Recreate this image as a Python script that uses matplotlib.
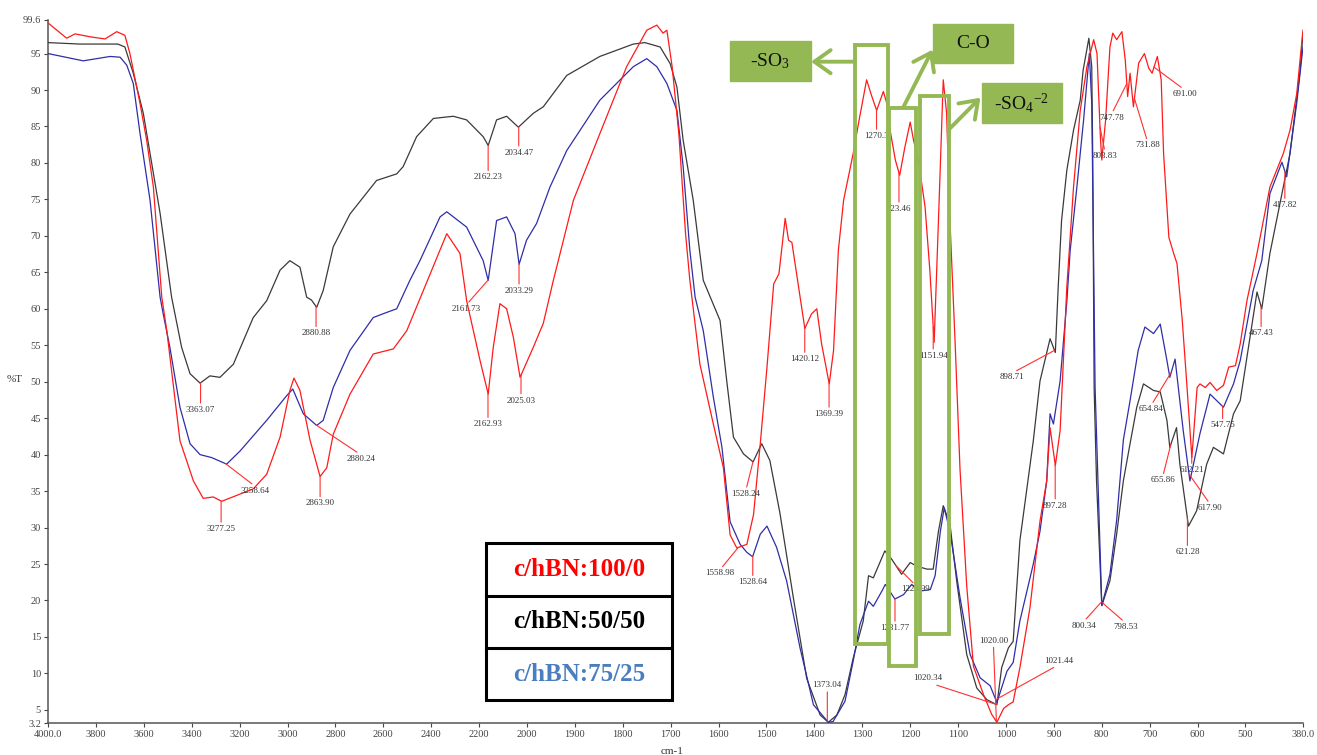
import numpy as np
import matplotlib
matplotlib.use("Agg")
import matplotlib.pyplot as plt
from matplotlib.patches import Rectangle

plt.rcParams["font.family"] = ["Liberation Serif", "DejaVu Serif"]
plt.rcParams["mathtext.fontset"] = "custom"
plt.rcParams["mathtext.rm"] = "Liberation Serif"
plt.rcParams["mathtext.it"] = "Liberation Serif:italic"
plt.rcParams["mathtext.bf"] = "Liberation Serif:bold"

# ---- spectra (wavenumber cm-1, %T) ----
red_wn = [4000, 3922, 3887, 3825, 3762, 3713, 3679, 3658, 3616, 3588, 3560, 3525, 3504, 3449,
          3393, 3352, 3310, 3275, 3198, 3143, 3087, 3031, 2990, 2973, 2948, 2906, 2864, 2836,
          2809, 2739, 2642, 2558, 2502, 2433, 2335, 2280, 2252, 2196, 2162, 2141, 2113, 2085,
          2057, 2029, 1987, 1966, 1945, 1903, 1848, 1792, 1750, 1729, 1716, 1708, 1697, 1683,
          1669, 1660, 1639, 1611, 1590, 1576, 1562, 1541, 1527, 1513, 1499, 1485, 1474, 1461,
          1454, 1447, 1434, 1420, 1406, 1395, 1385, 1369, 1360, 1350, 1339, 1319, 1308, 1291,
          1280, 1270, 1256, 1249, 1242, 1231, 1222, 1211, 1200, 1193, 1183, 1169, 1159, 1150,
          1141, 1131, 1124, 1117, 1106, 1096, 1082, 1068, 1047, 1030, 1019, 1005, 995, 985,
          971, 950, 929, 915, 908, 897, 887, 873, 859, 845, 831, 817, 810, 803, 800, 792, 783,
          777, 769, 758, 751, 746, 741, 734, 723, 711, 702, 695, 684, 676, 671, 660, 650, 643,
          632, 622, 612, 601, 595, 584, 574, 560, 546, 535, 521, 511, 497, 476, 449, 421, 407,
          393, 380]
red_t = [99.2, 97.1, 97.7, 97.3, 97.0, 98.0, 97.5, 95.0, 88.2, 83.1, 76.7, 61.6, 57.0, 41.9,
         36.4, 34.0, 34.2, 33.6, 34.6, 35.3, 37.3, 42.4, 48.8, 50.5, 48.8, 42.0, 37.0, 38.2,
         42.8, 48.3, 53.8, 54.5, 57.0, 62.5, 70.3, 67.6, 61.1, 52.9, 48.3, 54.7, 60.7, 60.0,
         56.1, 50.6, 54.7, 58.0, 63.9, 74.9, 84.0, 93.2, 98.2, 98.9, 97.8, 98.2, 93.2, 84.0,
         70.3, 63.9, 52.4, 44.2, 38.2, 29.0, 27.2, 27.7, 31.8, 41.5, 52.0, 63.4, 64.8, 72.4,
         69.4, 69.1, 63.4, 57.3, 59.3, 60.0, 55.2, 49.7, 54.3, 68.0, 74.9, 81.3, 85.4, 91.4,
         89.1, 87.2, 89.8, 88.2, 84.5, 80.4, 78.3, 82.2, 85.6, 83.1, 80.4, 74.0, 65.3, 55.4,
         72.1, 91.4, 86.8, 72.1, 55.0, 38.0, 22.0, 11.0, 7.1, 4.4, 3.3, 5.2, 5.7, 6.1,
         10.8, 19.0, 30.9, 36.4, 43.7, 38.5, 43.3, 63.0, 76.7, 87.2, 93.2, 96.9, 95.0, 83.6,
         80.4, 85.9, 95.9, 97.8, 96.9, 98.0, 94.1, 89.1, 92.3, 87.7, 93.7, 95.0, 93.0, 92.3,
         94.6, 91.4, 81.3, 69.8, 67.6, 66.2, 58.4, 49.2, 39.6, 49.2, 49.7, 49.2, 49.9, 48.8,
         49.5, 52.0, 52.2, 55.2, 61.1, 67.6, 76.7, 81.3, 84.5, 89.5, 98.2]

black_wn = [4000, 3866, 3708, 3679, 3644, 3602, 3532, 3484, 3442, 3407, 3365, 3324, 3282, 3226,
            3143, 3087, 3031, 2990, 2948, 2920, 2900, 2878, 2851, 2809, 2739, 2628, 2544, 2517,
            2461, 2391, 2308, 2252, 2183, 2162, 2127, 2085, 2036, 1987, 1966, 1917, 1848, 1778,
            1754, 1722, 1701, 1687, 1674, 1653, 1632, 1597, 1583, 1569, 1548, 1528, 1510, 1493,
            1472, 1444, 1416, 1388, 1371, 1353, 1336, 1319, 1298, 1287, 1277, 1253, 1239, 1218,
            1200, 1186, 1165, 1152, 1141, 1131, 1117, 1103, 1082, 1061, 1040, 1019, 1009, 995,
            985, 971, 943, 929, 908, 897, 891, 884, 873, 859, 845, 839, 827, 821, 819, 816, 811,
            800, 783, 769, 755, 741, 727, 713, 692, 678, 664, 658, 644, 637, 619, 602, 581, 567,
            546, 525, 511, 497, 476, 466, 449, 421, 407, 386, 380]
black_t = [96.5, 96.3, 96.3, 95.9, 92.3, 86.8, 73.1, 61.6, 54.7, 51.1, 49.8, 50.8, 50.6, 52.4,
           58.8, 61.1, 65.3, 66.6, 65.7, 61.6, 61.2, 60.2, 62.5, 68.5, 73.0, 77.6, 78.5, 79.5,
           83.6, 86.1, 86.4, 85.9, 83.6, 82.4, 85.9, 86.4, 84.9, 86.8, 87.7, 92.0, 94.6, 96.3,
           96.5, 95.9, 93.6, 90.4, 83.1, 74.9, 63.9, 58.4, 50.1, 42.4, 40.1, 39.0, 41.5, 39.2,
           32.0, 20.4, 9.3, 4.3, 3.3, 4.3, 7.1, 12.1, 17.2, 23.4, 23.1, 26.8, 25.7, 23.6,
           25.2, 24.7, 24.3, 24.3, 29.5, 33.0, 30.5, 22.7, 12.6, 8.0, 6.4, 5.7, 10.8, 13.5,
           14.4, 28.2, 41.9, 50.1, 55.9, 54.0, 63.0, 72.1, 79.0, 84.5, 88.6, 92.7, 97.1, 93.2,
           81.3, 49.2, 36.4, 19.3, 22.7, 29.1, 36.4, 41.5, 46.5, 49.7, 48.8, 48.6, 44.7, 41.0,
           43.7, 38.7, 30.2, 32.3, 38.7, 41.0, 40.1, 45.6, 47.4, 53.4, 62.3, 60.0, 67.6, 76.7,
           81.3, 92.7, 97.8]

blue_wn = [4000, 3853, 3741, 3699, 3671, 3644, 3616, 3574, 3532, 3519, 3491, 3449, 3407, 3365,
           3317, 3254, 3198, 3087, 3003, 2978, 2934, 2878, 2851, 2809, 2739, 2642, 2586, 2544,
           2489, 2447, 2363, 2335, 2252, 2183, 2162, 2127, 2085, 2050, 2033, 2002, 1980, 1952,
           1917, 1848, 1778, 1750, 1729, 1708, 1687, 1674, 1660, 1649, 1632, 1611, 1593, 1576,
           1555, 1541, 1529, 1513, 1499, 1479, 1458, 1430, 1402, 1371, 1361, 1336, 1319, 1305,
           1287, 1277, 1259, 1252, 1232, 1214, 1197, 1179, 1158, 1148, 1137, 1129, 1117, 1096,
           1075, 1054, 1033, 1019, 998, 985, 971, 943, 929, 915, 908, 901, 887, 873, 866, 852,
           838, 826, 821, 818, 814, 800, 783, 769, 755, 741, 724, 710, 692, 678, 664, 658, 647,
           630, 616, 595, 574, 546, 525, 511, 484, 466, 449, 424, 414, 393, 380]
blue_t = [95.0, 94.0, 94.6, 94.5, 93.4, 90.9, 84.1, 74.9, 61.6, 59.3, 54.7, 46.5, 41.5, 40.0,
          39.6, 38.7, 40.5, 44.7, 48.1, 49.0, 45.6, 44.0, 44.7, 49.2, 54.3, 58.8, 59.5, 60.0,
          63.9, 66.6, 72.6, 73.3, 71.2, 66.6, 63.9, 72.1, 72.6, 70.3, 66.1, 69.4, 71.7, 76.7,
          81.7, 88.6, 93.2, 94.3, 93.2, 90.9, 87.2, 79.5, 68.0, 61.6, 57.0, 47.9, 41.0, 30.8,
          27.7, 26.6, 26.0, 29.1, 30.2, 27.3, 22.7, 13.5, 5.7, 3.3, 3.4, 6.2, 11.7, 16.7,
          19.9, 19.2, 21.3, 22.2, 20.2, 20.8, 22.2, 21.3, 21.5, 23.4, 29.5, 32.7, 29.5, 20.4,
          12.6, 9.4, 8.3, 6.0, 10.3, 11.5, 17.2, 25.0, 29.5, 36.4, 45.6, 44.2, 50.1, 61.0,
          68.0, 76.7, 85.9, 95.0, 88.2, 72.1, 49.2, 19.3, 23.6, 31.0, 42.0, 47.4, 54.3, 57.5,
          56.6, 57.9, 52.9, 50.6, 53.1, 43.3, 36.4, 42.9, 48.3, 46.5, 49.7, 52.9, 62.5, 66.6,
          75.8, 80.1, 78.1, 88.2, 95.9]

# ---- peak labels ----
peak_text = ["3363.07", "3277.25", "3258.64", "2880.88", "2880.24", "2863.90", "2162.23",
             "2034.47", "2033.29", "2161.73", "2162.93", "2025.03", "1528.24", "1558.98",
             "1528.64", "1420.12", "1369.39", "1373.04", "1270.3", "223.46", "1151.94",
             "1231.77", "1229.99", "1020.00", "1020.34", "1021.44", "898.71", "897.28",
             "803.83", "747.78", "731.88", "691.00", "800.34", "798.53", "654.84", "655.86",
             "612.21", "617.90", "621.28", "547.75", "467.43", "417.82"]
peak_wn = [3363.07, 3277.25, 3258.64, 2880.88, 2880.24, 2863.90, 2162.23,
           2034.47, 2033.29, 2161.73, 2162.93, 2025.03, 1528.24, 1558.98,
           1528.64, 1420.12, 1369.39, 1373.04, 1270.3, 1223.46, 1151.94,
           1231.77, 1229.99, 1020.00, 1020.34, 1021.44, 898.71, 897.28,
           803.83, 747.78, 731.88, 691.00, 800.34, 798.53, 654.84, 655.86,
           612.21, 617.90, 621.28, 547.75, 467.43, 417.82]
peak_series = ["k", "r", "b", "k", "b", "r", "k", "k", "b", "b", "r", "r", "k", "r",
               "b", "r", "r", "b", "r", "r", "r", "b", "k", "r", "k", "b", "k", "r",
               "r", "r", "r", "r", "k", "b", "b", "k", "r", "b", "k", "b", "k", "b"]

# leader line end, pixels relative to the peak
leader = [(0, -23), (0, -24), (30, -23), (0, -23), (45, -30), (0, -23), (0, -28),
          (0, -22), (0, -23), (-22, -25), (0, -27), (0, -22), (-7, -28), (-18, -22),
          (0, -22), (0, -27), (0, -27), (0, 32), (0, -22), (0, -32), (0, -25),
          (0, -25), (20, -20), (-3, 77), (-68, 22), (63, 35), (-43, -23), (0, -37),
          (5, -25), (-15, -30), (13, -43), (31, -23), (-18, -20), (23, -20), (-20, -33),
          (-8, -32), (0, -10), (21, -30), (0, -30), (0, -15), (0, -23), (0, -30)]

# highlighted bands: (high wn, low wn, bottom %T, top %T)
bands = [(1315, 1247, 14.0, 96.2), (1244, 1188, 11.0, 87.6), (1179, 1120, 15.4, 89.2)]

legend_names = ["c/hBN:100/0", "c/hBN:50/50", "c/hBN:75/25"]
legend_colors = ["#ff0000", "#000000", "#4a7ebf"]

x_ticks = [4000, 3800, 3600, 3400, 3200, 3000, 2800, 2600, 2400, 2200, 2000, 1900, 1800,
           1700, 1600, 1500, 1400, 1300, 1200, 1100, 1000, 900, 800, 700, 600, 500, 380]
x_labels = ["4000.0"] + [str(v) for v in x_ticks[1:-1]] + ["380.0"]
y_ticks = [3.2, 5, 10, 15, 20, 25, 30, 35, 40, 45, 50, 55, 60, 65, 70, 75, 80, 85, 90, 95, 99.6]
y_labels = ["3.2"] + [str(v) for v in y_ticks[1:-1]] + ["99.6"]

GREEN = "#94b954"
RED = "#ff1a1a"
BLACK = "#3a3a3a"
BLUE = "#2e2ea8"


def fwd(w):
    # wavenumbers above 2000 are drawn at half scale
    w = np.asarray(w, dtype=float)
    return np.where(w > 2000, 2000 + (w - 2000) / 2.0, w)


def inv(u):
    u = np.asarray(u, dtype=float)
    return np.where(u > 2000, 2000 + (u - 2000) * 2.0, u)


fig = plt.figure(figsize=(13.17, 7.55), dpi=100)
ax = fig.add_axes([0.03645, 0.04238, 0.9529, 0.93113])
ax.set_xscale("function", functions=(fwd, inv))
ax.set_xlim(4000, 380)
ax.set_ylim(3.2, 99.6)

series = {"r": (red_wn, red_t, RED), "k": (black_wn, black_t, BLACK), "b": (blue_wn, blue_t, BLUE)}
for key in ["k", "b", "r"]:
    wn, t, c = series[key]
    ax.plot(wn, t, color=c, lw=0.9, zorder=3)

for text, wn, key, (dx, dy) in zip(peak_text, peak_wn, peak_series, leader):
    xs, ys, _ = series[key]
    t = np.interp(wn, xs[::-1], ys[::-1])
    above = dy > 0
    ax.annotate(text, xy=(wn, t), xytext=(dx, dy), textcoords="offset pixels",
                ha="center", va="bottom" if above else "top", fontsize=6.5, color="#333333",
                arrowprops=dict(arrowstyle="-", color="#ff3030", lw=0.8, shrinkA=0, shrinkB=0,
                                relpos=(0.5, 0.0 if above else 1.0)),
                zorder=4)

# green band frames
for hi, lo, bot, top in bands:
    ax.add_patch(Rectangle((hi, bot), lo - hi, top - bot, fill=False, ec=GREEN, lw=2.8,
                           zorder=6))

# assignment tags
tags = [("-SO$_3$", 0.5434, 0.9132, 0.0643, 0.0574),
        ("C-O", 0.7054, 0.9384, 0.0638, 0.0559),
        ("-SO$_4$$^{-2}$", 0.7440, 0.8539, 0.0637, 0.0561)]
for label, x0, y0, w, h in tags:
    ax.add_patch(Rectangle((x0, y0), w, h, transform=ax.transAxes, fc=GREEN, ec=GREEN,
                           lw=1, zorder=7, clip_on=False))
    ax.text(x0 + w / 2, y0 + h / 2, label, transform=ax.transAxes, ha="center",
            va="center", fontsize=14, color="#111111", zorder=8)

arrows = [((0.6430, 0.9407), (0.6080, 0.9407)),
          ((0.6815, 0.8758), (0.7048, 0.9578)),
          ((0.7174, 0.8435), (0.7430, 0.8895))]
for tail, head in arrows:
    ax.annotate("", xy=head, xytext=tail, xycoords="axes fraction",
                arrowprops=dict(arrowstyle="->,head_length=0.45,head_width=0.32", color=GREEN,
                                lw=2.8, mutation_scale=26, shrinkA=0, shrinkB=0,
                                capstyle="round", joinstyle="round"),
                zorder=7)

# sample key
lx0, lx1 = 0.3490, 0.4972
rows = [0.2560, 0.1807, 0.1067, 0.0327]
ax.add_patch(Rectangle((lx0, rows[-1]), lx1 - lx0, rows[0] - rows[-1], transform=ax.transAxes,
                       fc="white", ec="black", lw=2.2, zorder=8))
for yy in rows[1:-1]:
    ax.plot([lx0, lx1], [yy, yy], transform=ax.transAxes, color="black", lw=2.2, zorder=9)
for i, (name, c) in enumerate(zip(legend_names, legend_colors)):
    ax.text((lx0 + lx1) / 2, (rows[i] + rows[i + 1]) / 2, name, transform=ax.transAxes,
            ha="center", va="center", fontsize=18, fontweight="bold", color=c, zorder=10)

ax.set_xticks(x_ticks)
ax.set_xticklabels(x_labels)
ax.set_yticks(y_ticks)
ax.set_yticklabels(y_labels)
ax.minorticks_off()
ax.tick_params(axis="both", labelsize=7.5, colors="#444444", length=3, width=0.8, pad=2)
for side in ["top", "right"]:
    ax.spines[side].set_visible(False)
for side in ["left", "bottom"]:
    ax.spines[side].set_color("#555555")
    ax.spines[side].set_linewidth(1.1)

fig.text(15 / 1317, 1 - 380 / 755, "%T", ha="center", va="center", fontsize=8, color="#333333")
fig.text(672 / 1317, 1 - 751 / 755, "cm-1", ha="center", va="center", fontsize=8,
         color="#333333")

fig.savefig("out.png", dpi=100)
